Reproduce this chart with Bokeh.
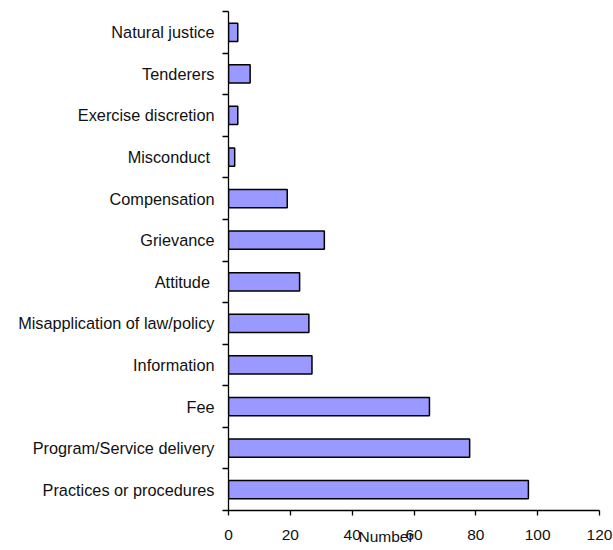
from bokeh.plotting import figure
from bokeh.models import Range1d, FixedTicker
from bokeh.embed import file_html
from bokeh.resources import INLINE

# categories listed bottom to top
categories = ["Practices or procedures", "Program/Service delivery", "Fee",
              "Information", "Misapplication of law/policy", "Attitude ",
              "Grievance", "Compensation", "Misconduct ", "Exercise discretion",
              "Tenderers", "Natural justice"]
values = [97, 78, 65, 27, 26, 23, 31, 19, 2, 3, 7, 3]
x_ticks = [0, 20, 40, 60, 80, 100, 120]

n = len(categories)
centers = [i + 0.5 for i in range(n)]
bounds = list(range(n + 1))

p = figure(width=613, height=550, output_backend="svg", toolbar_location=None,
           x_range=Range1d(0, 120), y_range=Range1d(0, n),
           min_border_left=228, min_border_top=11, min_border_right=14,
           min_border_bottom=40)
p.outline_line_color = None
p.grid.visible = False
p.background_fill_color = "white"
p.border_fill_color = "white"

p.hbar(y=centers, right=values, left=0, height=0.44,
       fill_color="#9999FF", line_color="black", line_width=1.5)

font = "Liberation Sans"

xa = p.xaxis[0]
xa.ticker = FixedTicker(ticks=x_ticks)
xa.minor_tick_line_color = None
xa.major_tick_out = 5
xa.major_tick_in = 0
xa.axis_line_color = "black"
xa.axis_line_width = 1.3
xa.major_tick_line_width = 1.3
xa.major_label_text_font = font
xa.major_label_text_font_size = "15.5px"
xa.major_label_text_color = "#111111"
xa.major_label_standoff = 14
xa.axis_label = "Number" + "\u00a0" * 13
xa.axis_label_text_font = font
xa.axis_label_text_font_size = "15.5px"
xa.axis_label_text_font_style = "normal"
xa.axis_label_text_color = "#111111"
xa.axis_label_standoff = -15

ya = p.yaxis[0]
ya.ticker = FixedTicker(ticks=centers, minor_ticks=bounds)
ya.major_label_overrides = {c: lab for c, lab in zip(centers, categories)}
ya.major_tick_out = 0
ya.major_tick_in = 0
ya.major_tick_line_color = None
ya.minor_tick_out = 6
ya.minor_tick_in = 0
ya.minor_tick_line_color = "black"
ya.minor_tick_line_width = 1.3
ya.axis_line_color = "black"
ya.axis_line_width = 1.3
ya.major_label_text_font = font
ya.major_label_text_font_size = "16.3px"
ya.major_label_text_color = "#111111"
ya.major_label_standoff = 8

open("out.html", "w").write(file_html(p, INLINE))
